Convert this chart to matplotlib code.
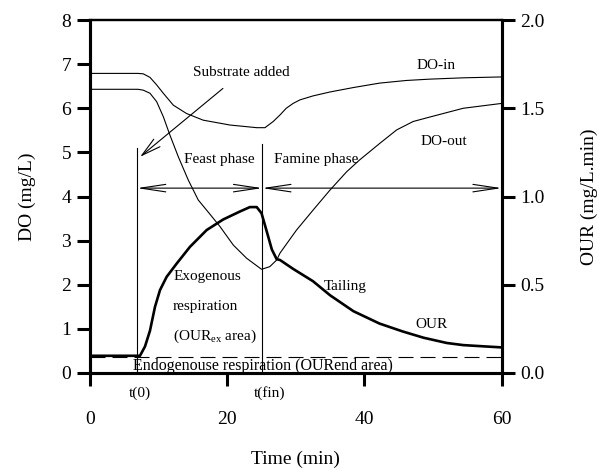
import matplotlib
matplotlib.use("Agg")
import matplotlib.pyplot as plt

plt.rcParams['font.family'] = 'Liberation Serif'
plt.rcParams['mathtext.fontset'] = 'custom'
plt.rcParams['mathtext.rm'] = 'Liberation Serif'

# --- Data ---
time_do_in = [0, 7.0, 7.77, 8.74, 9.71, 10.68, 12.14, 14.08, 16.5, 20.4, 24.3, 25.5,
              26.7, 27.7, 28.6, 29.6, 30.6, 32.5, 35.0, 38.4, 42.2, 46.1, 49.5, 54.4, 60]
do_in = [6.79, 6.79, 6.78, 6.70, 6.53, 6.34, 6.07, 5.88, 5.73, 5.62, 5.56, 5.56,
         5.70, 5.85, 6.00, 6.11, 6.19, 6.28, 6.37, 6.47, 6.57, 6.63, 6.66, 6.69, 6.71]

time_do_out = [0, 7.0, 7.77, 8.74, 9.71, 10.68, 11.65, 12.87, 14.33, 15.78, 17.0, 18.94,
               20.88, 22.83, 25.0, 26.2, 27.2, 27.7, 30.1, 32.5, 35.0, 37.4, 39.3, 42.2,
               44.7, 47.1, 49.5, 54.4, 60]
do_out = [6.43, 6.43, 6.41, 6.34, 6.15, 5.81, 5.39, 4.90, 4.37, 3.92, 3.69, 3.32,
          2.90, 2.60, 2.35, 2.41, 2.56, 2.72, 3.24, 3.69, 4.15, 4.56, 4.83, 5.20,
          5.51, 5.70, 5.80, 6.00, 6.11]

time_our = [0, 7.28, 8.01, 8.74, 9.47, 10.2, 11.17, 12.63, 14.57, 17.0, 19.42, 21.85,
            23.3, 24.3, 25.0, 25.7, 26.5, 27.2, 27.7, 29.6, 32.5, 35.0, 38.4, 42.2,
            45.6, 48.6, 52.0, 54.4, 57.8, 60]
our = [0.0975, 0.0975, 0.15, 0.24, 0.375, 0.47, 0.545, 0.62, 0.715, 0.81, 0.87, 0.915,
       0.94, 0.94, 0.905, 0.81, 0.70, 0.645, 0.64, 0.59, 0.52, 0.44, 0.35, 0.28,
       0.235, 0.20, 0.17, 0.158, 0.15, 0.145]

our_end = 0.09      # endogenous respiration level (OUR units)
t0, tfin = 6.85, 25.1
phase_y = 4.19

x_ticks = [0, 20, 40, 60]
do_ticks = [0, 1, 2, 3, 4, 5, 6, 7, 8]
our_ticks = [0.0, 0.5, 1.0, 1.5, 2.0]

# --- Figure ---
fig = plt.figure(figsize=(6.05, 4.70), dpi=100)
ax = fig.add_axes([0.1488, 0.2064, 0.6804, 0.751])
ax2 = ax.twinx()

ax.plot(time_do_in, do_in, color='black', lw=0.8)
ax.plot(time_do_out, do_out, color='black', lw=0.8)
ax2.plot(time_our, our, color='black', lw=1.9)
ax2.axhline(our_end, color='black', lw=0.8, dashes=(13.5, 6.3))

# phase markers
ax.plot([t0, t0], [0, 5.1], color='black', lw=0.8)
ax.plot([tfin, tfin], [0, 5.19], color='black', lw=0.8)
arrow_kw = dict(arrowstyle='<->,head_length=18,head_width=2.7', color='black',
                lw=0.8, mutation_scale=1, shrinkA=0, shrinkB=0)
ax.annotate('', xy=(t0, phase_y), xytext=(tfin, phase_y), arrowprops=arrow_kw)
ax.annotate('', xy=(tfin, phase_y), xytext=(60, phase_y), arrowprops=arrow_kw)

fs = 11
ax.annotate('Substrate added', xy=(7.3, 4.9), xytext=(22.1, 6.8),
            ha='center', va='center', fontsize=fs,
            arrowprops=dict(arrowstyle='->,head_length=14,head_width=3.5',
                            color='black', lw=0.8, mutation_scale=1,
                            shrinkA=7, shrinkB=0))

ax.text(18.9, 4.85, 'Feast phase', ha='center', va='center', fontsize=fs)
ax.text(33.0, 4.85, 'Famine phase', ha='center', va='center', fontsize=fs)
ax.text(50.4, 6.96, 'DO-in', ha='center', va='center', fontsize=fs)
ax.text(51.6, 5.24, 'DO-out', ha='center', va='center', fontsize=fs)
ax.text(37.2, 1.97, 'Tailing', ha='center', va='center', fontsize=fs)
ax.text(49.7, 1.11, 'OUR', ha='center', va='center', fontsize=fs)
ax.text(12.1, 2.18, 'Exogenous', ha='left', va='center', fontsize=fs)
ax.text(12.1, 1.50, 'respiration', ha='left', va='center', fontsize=fs)
ax.text(12.1, 0.82, r'(OUR$_{\rm ex}$ area)', ha='left', va='center', fontsize=fs)
ax.text(6.3, 0.16, 'Endogenouse respiration (OURend area)', ha='left',
        va='center', fontsize=11.5)
ax.text(7.3, -0.45, 't(0)', ha='center', va='center', fontsize=fs, clip_on=False)
ax.text(26.2, -0.45, 't(fin)', ha='center', va='center', fontsize=fs, clip_on=False)

# --- Axes styling ---
ax.set_xlim(0, 60)
ax.set_ylim(0, 8)
ax2.set_ylim(0, 2.0)
ax.set_xticks(x_ticks)
ax.set_yticks(do_ticks)
ax2.set_yticks(our_ticks)
ax2.set_yticklabels([f"{v:.1f}" for v in our_ticks])

for a in (ax, ax2):
    for s in a.spines.values():
        s.set_linewidth(2.2)
    a.spines['top'].set_linewidth(1.6)
    a.tick_params(direction='out', length=9.5, width=2.2, labelsize=14, pad=4)
ax.tick_params(axis='x', pad=18)

ax.set_xlabel('Time (min)', fontsize=14, labelpad=16)
ax.set_ylabel('DO (mg/L)', fontsize=14, labelpad=18)
ax2.set_ylabel('OUR (mg/L.min)', fontsize=14, labelpad=26)

fig.savefig('out.png', dpi=100)
